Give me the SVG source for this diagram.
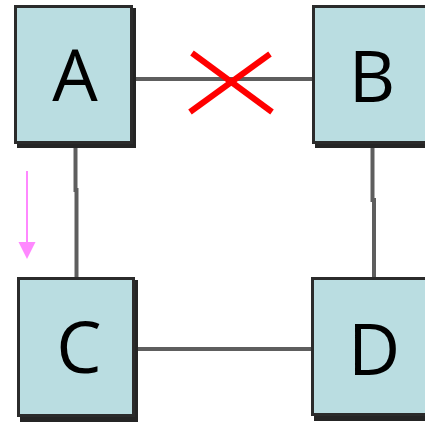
<svg xmlns="http://www.w3.org/2000/svg" width="425" height="422" viewBox="0 0 425 422">
<style>
.shadow{fill:#252525}
.box{fill:#badde1;stroke:#2b2b2b;stroke-width:3}
.lbl{font-family:"Open Sans","Noto Sans",sans-serif;font-size:72px;fill:#000;text-anchor:middle}
.conn{stroke:#5e5e5e;stroke-width:4;fill:none}
</style>
<rect width="425" height="422" fill="#fff"/>
<g id="connectors">
<line class="conn" x1="134" y1="79" x2="313" y2="79"/>
<line class="conn" x1="75.5" y1="146" x2="75.5" y2="192"/>
<line class="conn" x1="76.5" y1="188" x2="76.5" y2="279"/>
<line class="conn" x1="372.5" y1="146" x2="372.5" y2="202"/>
<line class="conn" x1="374" y1="198" x2="374" y2="279"/>
<line class="conn" x1="136" y1="349" x2="312" y2="349"/>
</g>
<g id="nodeA">
<rect class="shadow" x="17" y="8" width="119" height="140"/>
<rect class="box" x="15.5" y="6.5" width="116" height="136"/>
<text class="lbl" x="75" y="101">A</text>
</g>
<g id="nodeB">
<rect class="shadow" x="315" y="8" width="130" height="140"/>
<rect class="box" x="313.5" y="6.5" width="130" height="136"/>
<text class="lbl" x="372" y="102">B</text>
</g>
<g id="nodeC">
<rect class="shadow" x="20" y="280" width="118" height="142"/>
<rect class="box" x="18.5" y="278.5" width="115" height="137"/>
<text class="lbl" x="79" y="373">C</text>
</g>
<g id="nodeD">
<rect class="shadow" x="314" y="280" width="130" height="141"/>
<rect class="box" x="312.5" y="278.5" width="130" height="136"/>
<text class="lbl" x="374" y="375">D</text>
</g>
<g id="cross">
<line x1="192" y1="53" x2="272" y2="112" stroke="#ff0000" stroke-width="6"/>
<line x1="270" y1="54" x2="190" y2="112" stroke="#ff0000" stroke-width="6"/>
</g>
<g id="arrow">
<line x1="27" y1="171" x2="27" y2="244" stroke="#ff88ff" stroke-width="2"/>
<polygon points="18.5,242 35.5,242 27,259" fill="#ff88ff"/>
</g>
</svg>
